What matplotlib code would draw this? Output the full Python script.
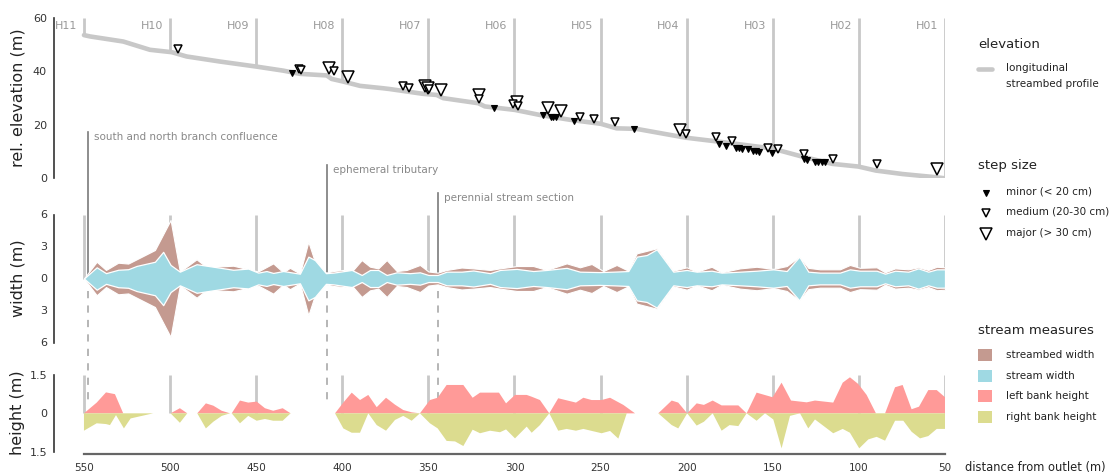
#! /usr/bin/env python
# -*- coding: utf-8 -*-

import numpy as np
import matplotlib
matplotlib.use('Agg')
import matplotlib.pyplot as plt
from matplotlib.lines import Line2D
from matplotlib.patches import Rectangle

plt.rcParams['font.family'] = ['DejaVu Sans']

# --- data (distance from outlet in m) -----------------------------------
profile_dist = [550, 546.5, 527.2, 511.7, 499, 490.4, 471, 449.7, 434.3, 424.6,
                409, 406.2, 399.4, 389.7, 376.2, 372.3, 353, 345.2, 341.4, 321,
                317.2, 299.8, 285.2, 267.8, 249.9, 240.7, 229.1, 204, 200.5,
                181.2, 150.6, 132.8, 115.4, 100.3, 90.2, 74.7, 55.3, 50]
profile_elev = [53.6, 53.1, 51.2, 48.1, 47.2, 45.6, 43.7, 41.8, 40.3, 39.1,
                38.5, 37.2, 36.2, 34.6, 33.7, 33.4, 31.6, 31.2, 30.0, 28.1,
                26.9, 25.6, 23.7, 21.9, 20.4, 18.7, 18.5, 15.6, 15.2,
                13.7, 11.2, 8.1, 5.4, 4.4, 2.9, 1.6, 0.4, 0.0]

step_dist = [495.4, 429.0, 425.0, 424.0, 407.5, 405.0, 396.7, 364.6, 361.3,
             352.0, 350.4, 349.6, 342.8, 320.4, 320.4, 311.9, 301.1, 298.8,
             297.8, 283.2, 280.3, 278.9, 277.4, 276.0, 273.2, 265.7, 262.2,
             253.9, 241.6, 230.4, 203.9, 200.6, 182.8, 181.3, 177.4, 173.5,
             171.5, 169.6, 168.0, 164.2, 161.3, 159.7, 157.8, 153.0, 150.3,
             147.2, 131.7, 131.9, 129.9, 125.5, 123.6, 121.6, 119.7, 114.9,
             89.7, 54.8]
step_elev = [48.4, 39.6, 40.9, 40.6, 41.2, 40.2, 38.1, 34.6, 33.9,
             34.4, 33.7, 33.4, 33.1, 31.2, 29.6, 26.2, 27.9, 28.6,
             27.1, 23.7, 26.2, 22.9, 22.9, 22.9, 25.3, 21.6, 23.1,
             22.2, 21.0, 18.5, 17.9, 16.6, 15.6, 12.7, 12.2, 13.9,
             11.2, 11.2, 10.9, 10.9, 10.4, 10.4, 10.0, 11.5, 9.4,
             10.9, 9.1, 7.2, 6.9, 6.0, 6.0, 6.0, 6.0, 7.2,
             5.2, 3.4]
step_class = ['medium', 'minor', 'medium', 'medium', 'major', 'medium', 'major',
              'medium', 'medium', 'major', 'major', 'medium', 'major', 'major',
              'medium', 'minor', 'medium', 'major', 'medium', 'minor', 'major',
              'minor', 'minor', 'minor', 'major', 'minor', 'medium', 'medium',
              'medium', 'minor', 'major', 'medium', 'medium', 'minor', 'minor',
              'medium', 'minor', 'minor', 'minor', 'minor', 'minor', 'minor',
              'minor', 'medium', 'minor', 'medium', 'medium', 'minor', 'minor',
              'minor', 'minor', 'minor', 'minor', 'medium', 'medium', 'major']

bed_dist = [550, 542.6, 537.2, 530.1, 524.3, 508.8, 499.7, 494.3, 484.6, 478.8,
            463.3, 455.5, 448.8, 440.1, 434.3, 430.4, 424.6, 419.7, 415.9, 409.5,
            405.2, 399.4, 394.5, 388.7, 383.9, 379.1, 374.2, 368.4, 362.6, 354.9,
            350.0, 344.6, 339.4, 330.7, 323.9, 314.2, 308.4, 298.7, 289.1, 281.3,
            269.7, 262.0, 255.2, 248.4, 240.7, 233.9, 229.0, 217.4, 207.8, 200.0,
            194.2, 185.5, 179.7, 169.0, 159.4, 149.7, 141.9, 134.6, 129.4, 122.6,
            111.0, 105.2, 99.4, 89.7, 84.8, 79.0, 71.3, 65.5, 59.7, 54.8, 50.0]
bed_width = [0, 1.57, 0.8, 1.48, 1.4, 2.67, 5.48, 0.64, 1.8, 1.06,
             1.2, 0.9, 0.66, 1.42, 0.58, 1.0, 0.45, 3.45, 1.57, 0.55,
             0.7, 0.8, 0.65, 1.73, 1.11, 0.95, 1.73, 0.7, 0.8, 1.27,
             0.66, 0.55, 0.8, 1.03, 0.95, 0.8, 0.95, 1.17, 1.17, 0.8,
             1.42, 1.05, 1.36, 0.7, 1.27, 0.73, 2.36, 2.83, 0.73, 1.05,
             0.64, 1.1, 0.58, 0.95, 1.1, 0.9, 1.17, 2.05, 1.0, 0.86,
             0.86, 1.27, 1.0, 1.05, 0.58, 0.95, 0.86, 1.05, 0.8, 1.1, 1.05]

stream_dist = [550, 542.6, 537.2, 530.1, 524.3, 519.4, 508.8, 504.0, 499.7, 494.3,
               484.6, 473.0, 463.3, 454.6, 448.8, 444.0, 440.1, 434.3, 424.6, 419.7,
               415.9, 409.5, 405.2, 394.5, 388.7, 383.9, 379.1, 374.2, 368.4, 360.7,
               354.9, 350.0, 344.6, 339.4, 330.7, 323.9, 314.2, 308.4, 298.7, 289.1,
               281.3, 269.7, 262.0, 250.4, 242.6, 233.9, 229.0, 223.2, 217.4, 207.8,
               200.0, 194.2, 185.5, 179.7, 169.0, 159.4, 149.7, 141.9, 134.6, 129.4,
               122.6, 111.0, 105.2, 99.4, 89.7, 84.8, 79.0, 71.3, 65.5, 59.7, 54.8, 50.0]
stream_width = [0, 1.05, 0.5, 0.82, 0.87, 1.18, 1.57, 2.5, 1.27, 0.64,
                1.34, 1.06, 0.82, 0.93, 0.55, 0.7, 0.52, 0.7, 0.45, 2.05,
                1.73, 0.5, 0.55, 0.8, 0.33, 0.8, 0.8, 0.33, 0.58, 0.5,
                0.58, 0.33, 0.33, 0.64, 0.64, 0.75, 0.5, 0.8, 0.9, 0.7,
                0.8, 1.0, 0.64, 0.6, 0.64, 0.7, 2.05, 2.2, 2.73, 0.64,
                0.8, 0.64, 0.73, 0.55, 0.64, 0.73, 0.86, 0.7, 2.05, 0.64,
                0.55, 0.55, 0.86, 0.73, 0.73, 0.45, 0.73, 0.64, 0.95, 0.64, 0.86, 0.86]

nan = np.nan
left_dist = [550, 542.6, 537.2, 532.0, 527.2, 520, 499.7, 494.3, 490.0, 487,
             484.2, 479.2, 474.9, 470.0, 465.2, 464.2, 459.4, 454.6, 449.7, 444.9,
             440.1, 434.6, 430.0, 420, 404.2, 399.4, 394.5, 389.7, 384.9, 380.0,
             374.6, 369.4, 364.6, 359.7, 354.9, 349.1, 344.6, 339.4, 329.7, 324.3,
             320.0, 309.0, 304.9, 299.7, 292.9, 290.0, 285.2, 279.8, 274.6, 264.3,
             260.0, 255.2, 249.4, 244.5, 236.8, 230.0, 222, 216.5, 208.7, 204.9,
             199.7, 194.2, 190.0, 184.9, 179.7, 170.0, 165.2, 159.4, 150.1, 144.9,
             139.4, 130.3, 125.5, 114.9, 109.4, 105.2, 100.4, 95.5, 90.1, 84.8,
             79.0, 74.6, 69.4, 65.1, 59.7, 54.8, 50.0]
left_bank = [0, 0.42, 0.82, 0.75, 0, nan, 0, 0.2, 0, nan,
             0, 0.39, 0.3, 0.1, 0, 0, 0.5, 0.42, 0.46, 0.2,
             0.1, 0.2, 0, nan, 0, 0.42, 0.81, 0.52, 0.72, 0.24,
             0.61, 0.34, 0.13, 0.04, 0, 0.52, 0.61, 1.11, 1.11, 0.61,
             0.81, 0.81, 0.39, 0.72, 0.72, 0.65, 0.52, 0, 0.59, 0.42,
             0.61, 0.52, 0.52, 0.61, 0.33, 0, nan, 0, 0.5, 0.42,
             0, 0.39, 0.33, 0.5, 0.31, 0.31, 0, 0.81, 0.63, 1.2,
             0.5, 0.43, 0.5, 0.42, 1.2, 1.41, 1.15, 0.72, 0, 0,
             1.02, 1.11, 0.16, 0.26, 0.91, 0.91, 0.63]

right_dist = [550, 542.6, 537.2, 534.9, 531.4, 526.8, 522.9, 509.8, 505, 499.7,
              494.3, 490.0, 487, 484.2, 479.2, 474.9, 470.0, 465.2, 464.2, 459.4,
              454.6, 449.7, 444.9, 440.1, 434.6, 430.0, 420, 404.2, 399.4, 394.5,
              389.7, 384.9, 380.0, 374.6, 369.4, 364.6, 359.7, 354.9, 349.1, 344.6,
              339.4, 334.5, 329.7, 324.3, 320.0, 314.2, 308.4, 304.9, 299.7, 292.9,
              290.0, 285.2, 279.8, 274.6, 269.7, 264.3, 260.0, 249.4, 244.5, 239.7,
              234.8, 230.0, 222, 216.5, 208.7, 204.9, 199.7, 194.2, 190.0, 184.9,
              179.7, 175.1, 170.0, 165.2, 159.4, 154.5, 149.7, 144.9, 140.0, 134.2,
              129.4, 125.5, 114.9, 109.4, 105.2, 99.8, 94.5, 89.7, 84.8, 79.0,
              74.2, 69.4, 64.5, 59.7, 54.8, 50.0]
right_bank = [0.68, 0.39, 0.42, 0.46, 0.07, 0.59, 0.2, 0, nan, 0,
              0.37, 0, nan, 0, 0.59, 0.33, 0.1, 0, 0, 0.39,
              0.1, 0.29, 0.22, 0.29, 0.29, 0, nan, 0, 0.59, 0.76,
              0.76, 0, 0.46, 0.68, 0.26, 0.1, 0.29, 0, 0.39, 0.59,
              1.08, 1.1, 1.28, 0.64, 0.78, 0.68, 0.74, 0.63, 0.98, 0.52,
              0.76, 0.46, 0, 0.68, 0.61, 0.68, 0.61, 0.78, 0.69, 0.99,
              0, 0, nan, 0, 0.46, 0.59, 0, 0.48, 0.33, 0,
              0.68, 0.46, 0.5, 0, 0.29, 0, 0.24, 1.37, 0.1, 0,
              0.59, 0.24, 0.78, 0.61, 0.76, 1.37, 1.02, 0.92, 1.07, 0.29,
              0.29, 0.72, 0.98, 0.89, 0.61, 0.61]

hm_dist = [550, 500, 450, 400, 350, 300, 250, 200, 150, 100, 50]
hm_labels = ['H11', 'H10', 'H09', 'H08', 'H07', 'H06', 'H05', 'H04', 'H03', 'H02', 'H01']

notes = ['south and north branch confluence', 'ephemeral tributary',
         'perennial stream section']
note_dist = [547.7, 408.7, 344.6]
note_top = [13.7, 10.6, 8.0]   # in width-panel units

# --- style -------------------------------------------------------------
GREY = '#c8c8c8'
BED = '#c49a90'
STREAM = '#9fd9e3'
LEFT = '#ff9a98'
RIGHT = '#dcdc8f'
TXT = '#222222'

W, H = 1112, 474
fig = plt.figure(figsize=(W / 100, H / 100), dpi=100)


def add_ax(top, bottom):
    ax = fig.add_axes([54 / W, 1 - bottom / H, 891 / W, (bottom - top) / H])
    ax.set_facecolor('none')
    ax.set_xlim(567.4, 50)
    for s in ['top', 'right', 'bottom']:
        ax.spines[s].set_visible(False)
    ax.spines['left'].set_color('#333333')
    ax.spines['left'].set_linewidth(1.2)
    ax.tick_params(length=0, labelsize=8, labelcolor='#333333', pad=5)
    ax.set_xticks([])
    return ax

ax1 = add_ax(18, 178.3)
ax2 = add_ax(214.5, 342.5)
ax3 = add_ax(375, 454.2)

# elevation panel
ax1.set_ylim(0, 60)
ax1.spines['left'].set_bounds(0, 60)
ax1.set_yticks([0, 20, 40, 60])
pd_r, pe_r = profile_dist[::-1], profile_elev[::-1]
for d, lab in zip(hm_dist, hm_labels):
    ax1.plot([d, d], [60, np.interp(d, pd_r, pe_r)], color=GREY, lw=2,
             solid_capstyle='butt', zorder=1)
    ax1.annotate(lab, xy=(d, 60), xytext=(-5, -5.5), textcoords='offset points',
                 ha='right', va='center', fontsize=8, color='#999999')
ax1.plot(profile_dist, profile_elev, color=GREY, lw=3.3, zorder=2,
         solid_capstyle='round')

msty = {'minor': dict(ms=4, mfc='black', mec='black', mew=0.8),
        'medium': dict(ms=5.5, mfc='white', mec='black', mew=1.1),
        'major': dict(ms=8, mfc='white', mec='black', mew=1.1)}
sd = np.array(step_dist)
se = np.array(step_elev)
sc = np.array(step_class)
for k in ['major', 'medium', 'minor']:
    m = sc == k
    ax1.plot(sd[m], se[m], 'v', ls='none', zorder=3, clip_on=False, **msty[k])

# width panel
ax2.set_ylim(-6, 6)
ax2.spines['left'].set_bounds(-6, 6)
ax2.set_yticks([-6, -3, 0, 3, 6])
ax2.set_yticklabels(['6', '3', '0', '3', '6'])
for d in hm_dist:
    ax2.plot([d, d], [6, 0], color=GREY, lw=2, solid_capstyle='butt', zorder=1)
bw = np.array(bed_width)
sw = np.array(stream_width)
ax2.fill_between(bed_dist, -bw, bw, facecolor=BED, edgecolor='white', lw=0.8, zorder=2)
ax2.fill_between(stream_dist, -sw, sw, facecolor=STREAM, edgecolor='white', lw=0.9, zorder=3)

for d, txt, top in zip(note_dist, notes, note_top):
    ax2.plot([d, d], [0, top], color='#7a7a7a', lw=1.2, zorder=1, clip_on=False)
    ax2.plot([d, d], [-1.2, -11.9], color='#b0b0b0', lw=1.3, ls=(0, (4, 4)),
             zorder=1, clip_on=False)
    ax2.text(d - 3.5, top - 0.45, txt, ha='left', va='center', fontsize=7.5,
             color='#888888', clip_on=False)

# height panel
ax3.set_ylim(-1.6, 1.5)
ax3.spines['left'].set_bounds(-1.5, 1.5)
ax3.set_yticks([-1.5, 0, 1.5])
ax3.set_yticklabels(['1.5', '0', '1.5'])
for d in hm_dist:
    ax3.plot([d, d], [1.5, 0], color=GREY, lw=2, solid_capstyle='butt', zorder=1)
lb = np.array(left_bank)
rb = np.array(right_bank)
ax3.fill_between(left_dist, 0, lb, facecolor=LEFT, lw=0, zorder=2)
ax3.fill_between(right_dist, 0, -rb, facecolor=RIGHT, lw=0, zorder=2)
ax3.spines['bottom'].set_visible(True)
ax3.spines['bottom'].set_bounds(550, 50)
ax3.spines['bottom'].set_color('#666666')
ax3.spines['bottom'].set_linewidth(1.6)
ax3.set_xticks(hm_dist)
ax3.tick_params(axis='x', length=0, labelsize=7.5, pad=6)

# axis titles
fig.text(18 / W, 1 - 98 / H, 'rel. elevation (m)', rotation=90, ha='center',
         va='center', fontsize=11.5, color=TXT)
fig.text(18 / W, 1 - 278 / H, 'width (m)', rotation=90, ha='center',
         va='center', fontsize=11.5, color=TXT)
fig.text(18 / W, 1 - 413 / H, 'height (m)', rotation=90, ha='center',
         va='center', fontsize=11.5, color=TXT)
fig.text(965 / W, 1 - 468 / H, 'distance from outlet (m)', ha='left',
         va='center', fontsize=8.3, color=TXT)

# legend
def ftxt(x, y, s, size=7.5):
    fig.text(x / W, 1 - y / H, s, ha='left', va='center', fontsize=size, color=TXT)

ftxt(978, 44, 'elevation', 9.5)
fig.add_artist(Line2D([978 / W, 992 / W], [1 - 69 / H] * 2, color=GREY, lw=3.3,
                      solid_capstyle='round'))
ftxt(1006, 68, 'longitudinal')
ftxt(1006, 84, 'streambed profile')

ftxt(978, 166, 'step size', 9.5)
for y, k, s in [(192, 'minor', 'minor (< 20 cm)'), (212, 'medium', 'medium (20-30 cm)'),
                (233, 'major', 'major (> 30 cm)')]:
    fig.add_artist(Line2D([985.5 / W], [1 - (y + 1) / H], marker='v', ls='none',
                          **msty[k]))
    ftxt(1006, y, s)

ftxt(978, 331, 'stream measures', 9.5)
for y, c, s in [(355, BED, 'streambed width'), (376, STREAM, 'stream width'),
                (396, LEFT, 'left bank height'), (417, RIGHT, 'right bank height')]:
    fig.add_artist(Rectangle((978 / W, 1 - (y + 6) / H), 14 / W, 12 / H,
                             facecolor=c, edgecolor='none'))
    ftxt(1006, y, s)

plt.savefig('out.png', dpi=100)
